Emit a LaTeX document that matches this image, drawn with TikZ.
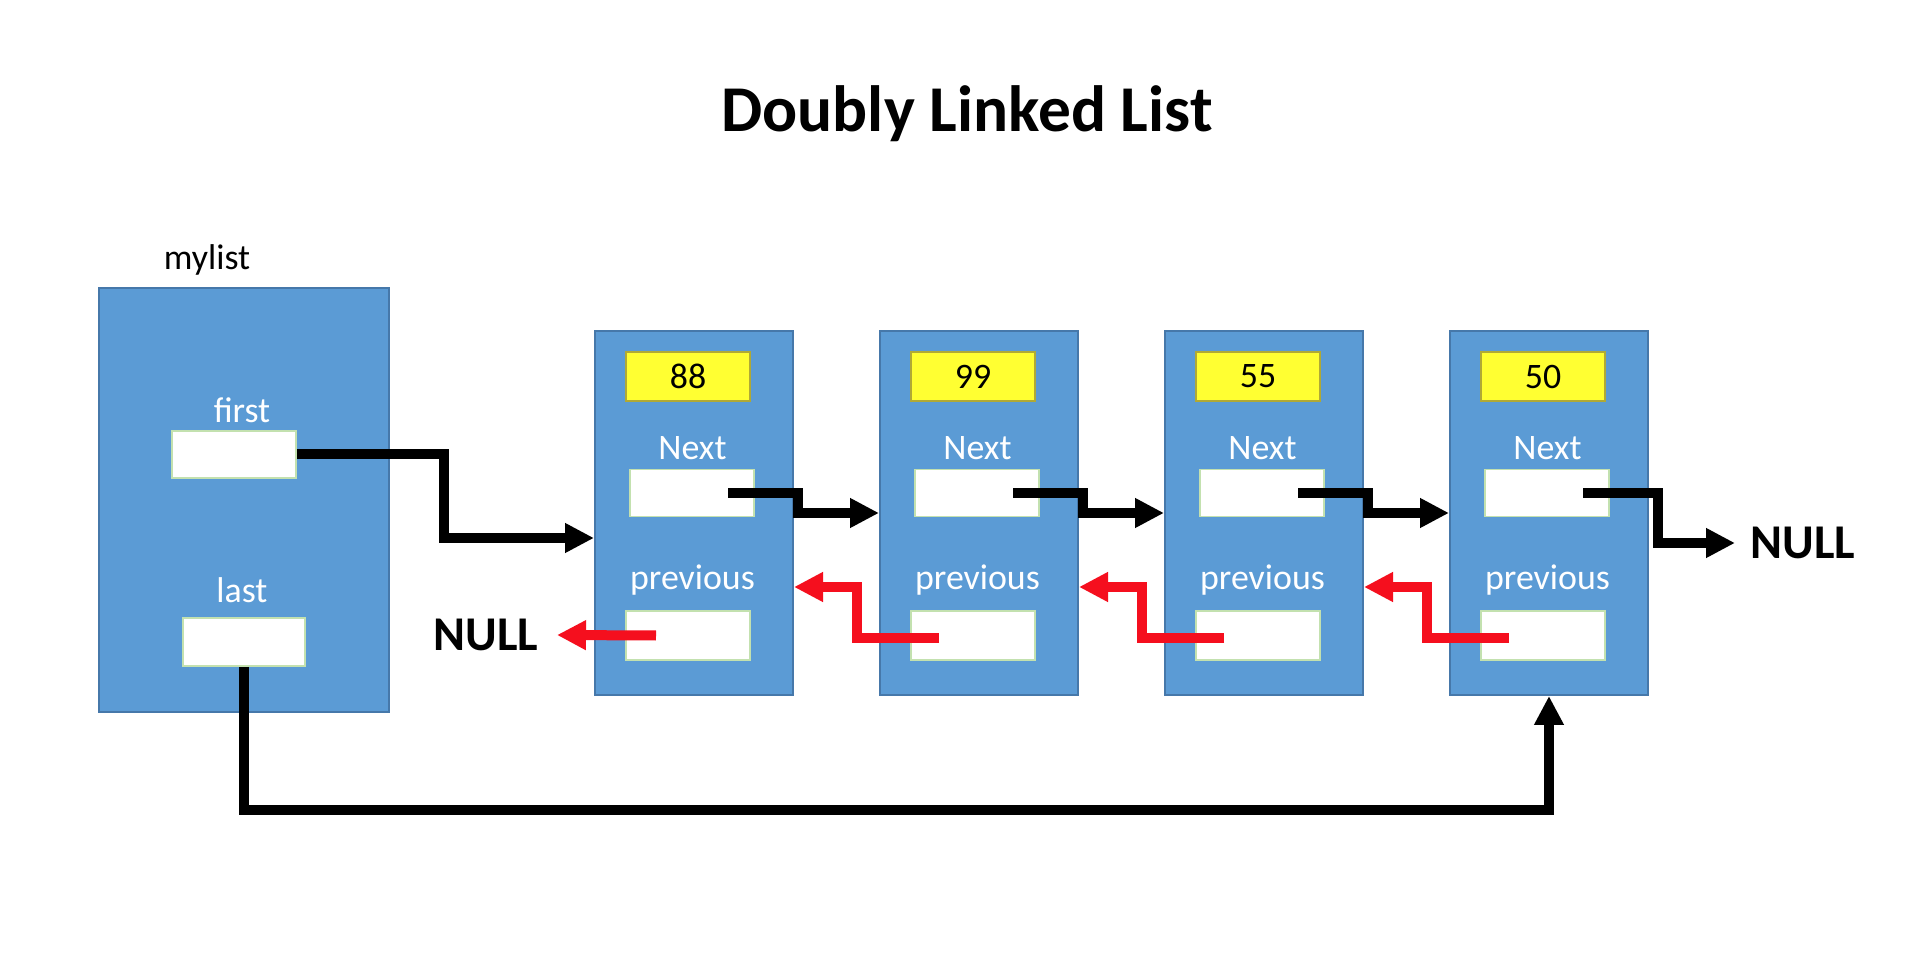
\documentclass[tikz,border=0pt]{standalone}
\usepackage{fontspec}
\setmainfont{Carlito}
\usetikzlibrary{positioning}
\usetikzlibrary{calc}
\usetikzlibrary{arrows.meta}
\definecolor{cellblue}{RGB}{91,155,213}
\definecolor{celledge}{RGB}{70,120,170}
\definecolor{valyellow}{RGB}{255,255,50}
\definecolor{boxedge}{RGB}{195,225,175}
\definecolor{ptrred}{RGB}{245,15,30}
\tikzstyle{cell}=[draw=celledge,fill=cellblue,line width=0.2mm,inner sep=0pt,minimum width=19.8mm,minimum height=36.4mm]
\tikzstyle{valbox}=[draw=olive!70,fill=valyellow,line width=0.15mm,inner sep=0pt,minimum width=12.4mm,minimum height=4.9mm,font=\fontsize{10.2}{12}\selectfont]
\tikzstyle{ptrbox}=[draw=boxedge,fill=white,line width=0.15mm,inner sep=0pt,minimum width=12.4mm,minimum height=4.7mm]
\tikzstyle{lbl}=[text=white,anchor=base,inner sep=0pt,font=\fontsize{10.2}{12}\selectfont]
\tikzstyle{nul}=[inner sep=0pt,font=\bfseries\fontsize{13.8}{16}\selectfont]
\tikzstyle{nxt}=[line width=1mm,-{Triangle[length=2.9mm,width=2.8mm]}]
\tikzstyle{prv}=[nxt,ptrred]

\begin{document}
\begin{tikzpicture}[x=0.1mm,y=-0.1mm]
\fill[white] (0,0) rectangle (1908,972);
\useasboundingbox (0,0) rectangle (1908,972);

\node[anchor=base,font=\bfseries\fontsize{18.6}{22}\selectfont] (title) at (967,132) {Doubly Linked List};

% the list header
\node[anchor=base,font=\fontsize{10.2}{12}\selectfont] (mylist) at (207,270) {mylist};
\node[cell,minimum width=29mm,minimum height=42.4mm] (ml) at (244,500) {};
\node[lbl] (firstlbl) at (242,423) {first};
\node[ptrbox] (fb) at (234,454.5) {};
\node[lbl] (lastlbl) at (242,603) {last};
\node[ptrbox,minimum width=12.2mm,minimum height=4.8mm] (lb) at (244,642) {};

% the four list nodes
\foreach \v [count=\i from 0, evaluate=\i as \x using 694+285*\i] in {88,99,55,50}{
  \node[cell] (c\i) at (\x,513) {};
  \node[valbox] (v\i) at ({\x-6},376.5) {\v};
  \node[lbl] (nl\i) at ({\x-1.5},460) {Next};
  \node[ptrbox] (nx\i) at ({\x-2},493) {};
  \node[lbl] (pl\i) at ({\x-1.5},590) {previous};
  \node[ptrbox,minimum height=4.9mm] (pv\i) at ({\x-6},635.5) {};
}

\node[nul,anchor=east,inner sep=1.8mm] (nulll) at (557,635) {NULL};
\node[nul,anchor=west,inner sep=1.5mm] (nullr) at (1735,543) {NULL};

% pointers
\draw[nxt] (fb.east) -- (444,454.5) -- (444,538) -- (c0.west |- 0,538);
\draw[nxt] (lb.south) -- ++(0,143) -| (c3.south);
\foreach \i/\j in {0/1,1/2,2/3}{
  \draw[nxt] ($(nx\i)+(36,0)$) -- ++(70,0) |- (c\j.west);
  \draw[prv] ($(pv\j)+(-34,2)$) -- ++(-82,0) |- (c\i.east |- 0,587);
}
\draw[nxt] ($(nx3)+(36,0)$) -- ++(75,0) |- (nullr.west);
\draw[prv] ($(pv0)+(-32,0)$) -- (nulll.east);
\end{tikzpicture}
\end{document}
